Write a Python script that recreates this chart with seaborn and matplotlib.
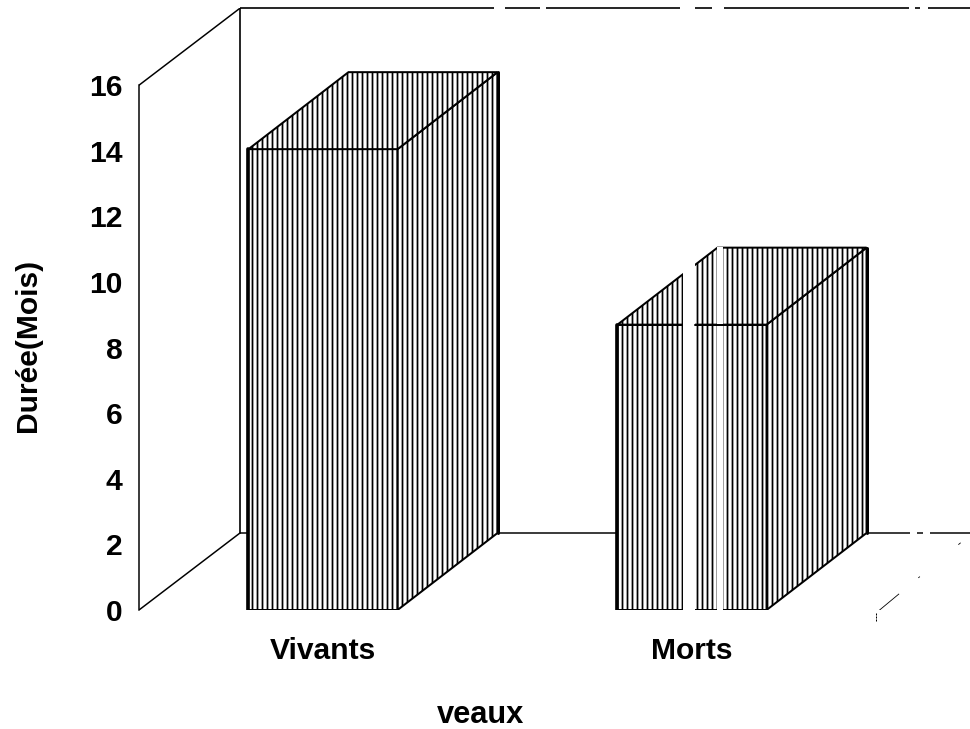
import pandas as pd
import seaborn as sns
import matplotlib.pyplot as plt
from matplotlib.patches import Polygon, Rectangle

# Data
categories = ['Vivants', 'Morts']
durees = [14.05, 8.7]
yticks = [0, 2, 4, 6, 8, 10, 12, 14, 16]

# Set Style
sns.set_style("white")
plt.rcParams['font.family'] = ['Liberation Sans', 'DejaVu Sans']
plt.rcParams['font.weight'] = 'bold'
plt.rcParams['hatch.linewidth'] = 1.05
plt.rcParams['text.color'] = 'black'
plt.rcParams['axes.labelcolor'] = 'black'
plt.rcParams['xtick.color'] = 'black'
plt.rcParams['ytick.color'] = 'black'

W, H, DPI = 970, 729, 120
PX_X = 369.0          # pixels per category
PX_Y = 32.8           # pixels per unit of duration
DX = 100 / PX_X       # depth of the fake 3D
DY = 77 / PX_Y


def px_dash(segments, lw):
    # dash pattern given in pixels, matplotlib scales it by the line width
    return (0, [s * 72 / DPI / lw for s in segments])


df = pd.DataFrame({'veaux': categories, 'duree': durees})

fig = plt.figure(figsize=(W / DPI, H / DPI), dpi=DPI)
ax = fig.add_axes([139 / W, 1 - 610 / H, (W - 139) / W, 602 / H])

sns.barplot(data=df, x='veaux', y='duree', ax=ax, width=0.404, color='white',
            saturation=1, edgecolor='black', linewidth=1.2, hatch='||||', zorder=3)
left = -184 / PX_X
right = left + (W - 139) / PX_X
ax.set_xlim(left, right)
ax.set_ylim(0, 602 / PX_Y)

# Depth faces of each bar
bars = list(ax.patches[:len(categories)])
for bar in bars:
    x0, x1 = bar.get_x(), bar.get_x() + bar.get_width()
    h = bar.get_height()
    side = [(x1, 0), (x1 + DX, DY), (x1 + DX, h + DY), (x1, h)]
    top = [(x0, h), (x0 + DX, h + DY), (x1 + DX, h + DY), (x1, h)]
    for pts in (side, top):
        ax.add_patch(Polygon(pts, closed=True, facecolor='white', edgecolor='black',
                             linewidth=1.2, hatch='||||', zorder=3))
    # heavy corners, ink spread in the scan
    ax.plot([x0, x0], [0, h], color='black', lw=2.2, zorder=3.5)
    ax.plot([x1 + DX, x1 + DX], [DY, h + DY], color='black', lw=1.8, zorder=3.5)

# Walls
wall_x = left + 101 / PX_X
ax.plot([left, wall_x], [yticks[-1], yticks[-1] + DY], color='black', lw=0.9, zorder=1)
ax.plot([left, wall_x], [0, DY], color='black', lw=0.9, zorder=1)
ax.plot([wall_x, wall_x], [DY, yticks[-1] + DY], color='black', lw=1.0, zorder=1)
ax.plot([wall_x, right], [yticks[-1] + DY] * 2, color='black', lw=1.0, zorder=1,
        linestyle=px_dash([254, 11, 35, 6, 134, 15, 17, 12, 185, 6, 5, 8, 60, 5], 1.0),
        clip_on=False)
ax.plot([wall_x, right], [DY, DY], color='black', lw=0.9, zorder=1,
        linestyle=px_dash([670, 7, 6, 7, 60, 5], 0.9))

# Faint remains of the floor edge, bottom right
ax.plot([right - 94 / PX_X, right], [-3 / PX_Y, 75 / PX_Y], color='black', lw=0.5,
        linestyle=px_dash([30, 25, 2, 50, 3, 200], 0.5), zorder=1)
ax.plot([right - 94 / PX_X] * 2, [-3 / PX_Y, -12 / PX_Y], color='black', lw=0.6,
        linestyle=px_dash([2, 1], 0.6), clip_on=False)

# White scan stripes across the second bar
for x_px, w_px, top_px in [(683, 12, 258), (717, 6, 246)]:
    x_data = (x_px - 323) / PX_X
    ax.add_patch(Rectangle((x_data, -0.1), w_px / PX_X, (612 - top_px) / PX_Y,
                           facecolor='white', edgecolor='none', zorder=4, clip_on=False))
ax.plot([(830 - 323) / PX_X] * 2, [4.0, 6.5], color='white', lw=1.2, zorder=4,
        linestyle=(0, (4, 2)))

# The top edge of the front face survives the second stripe
morts = bars[1]
ax.plot([(695 - 323) / PX_X, morts.get_x() + morts.get_width()],
        [morts.get_height()] * 2, color='black', lw=1.2, zorder=5)

# Axes
sns.despine(ax=ax, top=True, right=True, bottom=True, left=False)
ax.spines['left'].set_bounds(0, yticks[-1])
ax.spines['left'].set_linewidth(0.9)
ax.spines['left'].set_color('black')
ax.set_yticks(yticks)
ax.tick_params(axis='y', length=0, pad=10, labelsize=18)
ax.tick_params(axis='x', length=0, pad=16, labelsize=18)
ax.set_ylabel('Durée(Mois)', fontsize=18, fontweight='bold')
ax.yaxis.set_label_coords((42 - 139) / (W - 139), (610 - 345) / 602, transform=ax.transAxes)
ax.set_xlabel('veaux', fontsize=18.5, fontweight='bold')
ax.xaxis.set_label_coords((480 - 139) / (W - 139), -(700 - 610) / 602, transform=ax.transAxes)

fig.savefig('out.png', dpi=DPI)
